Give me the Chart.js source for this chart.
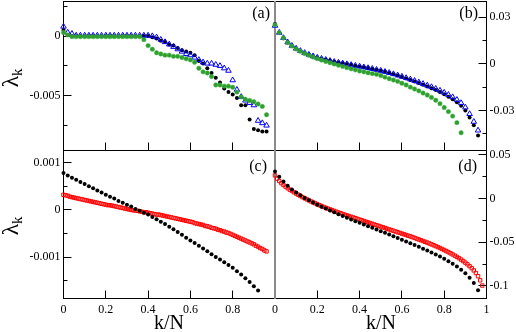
<!DOCTYPE html>
<html>
<head>
<meta charset="utf-8">
<script src="https://cdn.jsdelivr.net/npm/chart.js@4.4.0/dist/chart.umd.min.js"></script>
<style>
  html, body { margin: 0; padding: 0; background: #fff; }
  #wrap { position: relative; width: 516px; height: 332px; overflow: hidden;
          font-family: "Liberation Serif", "DejaVu Serif", serif; color: #000; }
  #wrap canvas { position: absolute; left: 0; top: 0; }
  .lab { position: absolute; font-size: 16px; line-height: 1; }
  .ylab { position: absolute; font-size: 24px; line-height: 1; white-space: nowrap;
          transform: translate(-50%, -50%) rotate(-90deg); }
  .ylab sub { font-size: 15px; vertical-align: -4px; }
  .xlab { position: absolute; font-size: 20px; line-height: 1; transform: translateX(-50%); white-space: nowrap; }
</style>
</head>
<body>
<div id="wrap">
  <canvas id="cA" width="516" height="332"></canvas>
  <canvas id="cB" width="516" height="332"></canvas>
  <canvas id="cC" width="516" height="332"></canvas>
  <canvas id="cD" width="516" height="332"></canvas>
  <div class="lab" style="right:246px; top:5px">(a)</div>
  <div class="lab" style="right:38px; top:5px">(b)</div>
  <div class="lab" style="right:249px; top:158px">(c)</div>
  <div class="lab" style="right:39px; top:158px">(d)</div>
  <div class="ylab" style="left:11px; top:78px">λ<sub>k</sub></div>
  <div class="ylab" style="left:11px; top:226px">λ<sub>k</sub></div>
  <div class="xlab" style="left:169px; top:312px">k/N</div>
  <div class="xlab" style="left:381px; top:312px">k/N</div>
</div>
<script>
// eigenvalues lambda_k against k/N
// panels (a),(b): k/N = 0, 0.02, ... ; panels (c),(d): black every 0.02, red every 0.01

const blackA = [0.0005, 0.0001, 0, 0, 0, 0, 0, 0, 0, 0,
  0, 0, 0, 0, 0, 0, 0, 0, 0, 0,
  0, -0.0001, -0.0002, -0.0004, -0.0005, -0.0007, -0.0008, -0.0010, -0.0012, -0.0013,
  -0.0014, -0.0016, -0.0021, -0.0023, -0.0027, -0.0031, -0.0035, -0.0039, -0.0044, -0.0047,
  -0.0049, -0.0052, -0.0058, -0.0058, -0.0070, -0.0078, -0.0079, -0.0080, -0.0080];
const blueA = [0.0008, 0.0003, 0.0002, 0.00005, 0.00005, 0.00005, 0.00005, 0.00005, 0.00005, 0.00005,
  0.00005, 0.00005, 0.00005, 0.00005, 0.00005, 0.00005, 0.00005, 0.00005, 0.00005, 0.00005,
  0.00005, 0, -0.0001, -0.0003, -0.0005, -0.0007, -0.0009, -0.0011, -0.0013, -0.0015,
  -0.0016, -0.0018, -0.0020, -0.0022, -0.0023, -0.0023, -0.0024, -0.0025, -0.0027, -0.0029,
  -0.0037, -0.0045, -0.0051, -0.0054, -0.0056, -0.0058, -0.0071, -0.0073, -0.0075];
const greenA = [0.0003, 0.0001, -0.00005, -0.00005, -0.00005, -0.00005, -0.00005, -0.00005, -0.00005, -0.00005,
  -0.00005, -0.00005, -0.00005, -0.00005, -0.00005, -0.00005, -0.00005, -0.00005, -0.00005, -0.0003,
  -0.0008, -0.0011, -0.0014, -0.0015, -0.0016, -0.0016, -0.0017, -0.0017, -0.0018, -0.0019,
  -0.0020, -0.0022, -0.0027, -0.0030, -0.0031, -0.0034, -0.0041, -0.0041, -0.0042, -0.0042,
  -0.0043, -0.0047, -0.0051, -0.0053, -0.0054, -0.0055, -0.0057, -0.0059, -0.0066];

const blackB = [0.0255, 0.0200, 0.0166, 0.0138, 0.0116, 0.0098, 0.0083, 0.0070, 0.0059, 0.0049,
  0.0040, 0.0033, 0.0026, 0.0019, 0.0013, 0.0008, 0.0003, -0.0002, -0.0007, -0.0012,
  -0.0017, -0.0022, -0.0027, -0.0033, -0.0039, -0.0045, -0.0052, -0.0059, -0.0067, -0.0076,
  -0.0085, -0.0094, -0.0104, -0.0114, -0.0124, -0.0135, -0.0146, -0.0157, -0.0169, -0.0182,
  -0.0196, -0.0211, -0.0228, -0.0247, -0.0270, -0.0300, -0.0345, -0.0395, -0.0460];
const blueB = [0.0245, 0.0200, 0.0166, 0.0138, 0.0116, 0.0098, 0.0083, 0.0070, 0.0059, 0.0049,
  0.0040, 0.0033, 0.0026, 0.0019, 0.0013, 0.0008, 0.0003, -0.0002, -0.0007, -0.0012,
  -0.0017, -0.0022, -0.0027, -0.0032, -0.0038, -0.0044, -0.0051, -0.0058, -0.0066, -0.0074,
  -0.0082, -0.0091, -0.0100, -0.0109, -0.0119, -0.0129, -0.0139, -0.0149, -0.0160, -0.0172,
  -0.0185, -0.0199, -0.0214, -0.0231, -0.0252, -0.0280, -0.0322, -0.0372, -0.0428];
const greenB = [0.0250, 0.0200, 0.0166, 0.0136, 0.0114, 0.0095, 0.0080, 0.0066, 0.0054, 0.0043,
  0.0033, 0.0024, 0.0015, 0.0007, -0.0001, -0.0009, -0.0017, -0.0025, -0.0032, -0.0039,
  -0.0046, -0.0052, -0.0058, -0.0063, -0.0068, -0.0075, -0.0086, -0.0096, -0.0104, -0.0113,
  -0.0125, -0.0136, -0.0150, -0.0162, -0.0174, -0.0188, -0.0201, -0.0216, -0.0234, -0.0256,
  -0.0281, -0.0307, -0.0336, -0.0378, -0.0443];

const blackC = [0.00078, 0.00073, 0.00068, 0.00064, 0.00059, 0.00055, 0.00050, 0.00046, 0.00041, 0.00037,
  0.00032, 0.00028, 0.00024, 0.00019, 0.00015, 0.00011, 0.00007, 0.00002, -0.00002, -0.00006,
  -0.00010, -0.00015, -0.00020, -0.00025, -0.00030, -0.00036, -0.00041, -0.00047, -0.00053, -0.00059,
  -0.00065, -0.00070, -0.00076, -0.00082, -0.00088, -0.00094, -0.00100, -0.00105, -0.00111, -0.00117,
  -0.00123, -0.00130, -0.00137, -0.00145, -0.00153, -0.00162, -0.00171];
const redC = [0.00032, 0.00031, 0.00030, 0.00028, 0.00027, 0.00026, 0.00025, 0.00024, 0.00023, 0.00022,
  0.00021, 0.00020, 0.00019, 0.00018, 0.00017, 0.00016, 0.00015, 0.00014, 0.00013, 0.00012,
  0.00011, 0.00010, 0.00010, 0.00009, 0.00008, 0.00007, 0.00006, 0.00005, 0.00004, 0.00003,
  0.00002, 0.00001, 0, -0.00001, -0.00001, -0.00002, -0.00003, -0.00004, -0.00005, -0.00005,
  -0.00006, -0.00007, -0.00008, -0.00009, -0.00010, -0.00010, -0.00011, -0.00012, -0.00013, -0.00014,
  -0.00015, -0.00016, -0.00017, -0.00018, -0.00019, -0.00020, -0.00021, -0.00022, -0.00023, -0.00024,
  -0.00025, -0.00026, -0.00028, -0.00029, -0.00030, -0.00031, -0.00032, -0.00034, -0.00035, -0.00036,
  -0.00038, -0.00039, -0.00040, -0.00042, -0.00043, -0.00045, -0.00046, -0.00048, -0.00049, -0.00051,
  -0.00053, -0.00055, -0.00057, -0.00059, -0.00061, -0.00063, -0.00065, -0.00067, -0.00069, -0.00071,
  -0.00073, -0.00076, -0.00078, -0.00081, -0.00083, -0.00086, -0.00088];

const blackD = [0.0310, 0.0250, 0.0195, 0.0146, 0.0104, 0.0068, 0.0036, 0.0006, -0.0021, -0.0046,
  -0.0070, -0.0093, -0.0115, -0.0137, -0.0158, -0.0179, -0.0199, -0.0219, -0.0239, -0.0259,
  -0.0278, -0.0297, -0.0316, -0.0335, -0.0354, -0.0373, -0.0392, -0.0411, -0.0431, -0.0451,
  -0.0471, -0.0491, -0.0511, -0.0531, -0.0552, -0.0573, -0.0595, -0.0617, -0.0640, -0.0664,
  -0.0689, -0.0716, -0.0745, -0.0777, -0.0813, -0.0855, -0.0905, -0.0965, -0.1050];
const redD = [0.0264, 0.0228, 0.0200, 0.0176, 0.0155, 0.0136, 0.0118, 0.0101, 0.0086, 0.0071,
  0.0057, 0.0043, 0.0029, 0.0016, 0.0003, -0.0009, -0.0021, -0.0033, -0.0044, -0.0055,
  -0.0066, -0.0076, -0.0086, -0.0096, -0.0106, -0.0115, -0.0124, -0.0133, -0.0142, -0.0151,
  -0.0160, -0.0168, -0.0177, -0.0185, -0.0193, -0.0201, -0.0209, -0.0217, -0.0225, -0.0233,
  -0.0241, -0.0249, -0.0257, -0.0265, -0.0273, -0.0281, -0.0289, -0.0297, -0.0305, -0.0313,
  -0.0321, -0.0329, -0.0337, -0.0345, -0.0353, -0.0361, -0.0369, -0.0377, -0.0385, -0.0393,
  -0.0401, -0.0409, -0.0417, -0.0425, -0.0433, -0.0441, -0.0450, -0.0459, -0.0468, -0.0477,
  -0.0486, -0.0495, -0.0504, -0.0514, -0.0524, -0.0534, -0.0544, -0.0555, -0.0566, -0.0577,
  -0.0589, -0.0601, -0.0613, -0.0626, -0.0639, -0.0653, -0.0667, -0.0682, -0.0698, -0.0715,
  -0.0733, -0.0752, -0.0773, -0.0796, -0.0822, -0.0852, -0.0888, -0.0935, -0.0995];

// axis ticks
const xTicksTop = [0.2, 0.4, 0.6, 0.8];
const xLabelsC = [0, 0.2, 0.4, 0.6, 0.8];
const xLabelsD = [0, 0.2, 0.4, 0.6, 0.8, 1];
const yMajorA = [0, -0.005], yMinorA = [0.0025, -0.0025, -0.0075];
const yMajorB = [0.03, 0, -0.03], yMinorB = [0.015, -0.015, -0.045];
const yMajorC = [0.001, 0, -0.001], yMinorC = [0.0005, -0.0005, -0.0015];
const yMajorD = [0.05, 0, -0.05, -0.1], yMinorD = [0.025, -0.025, -0.075];

// panel boxes in page pixels
const L = 63.5, M = 275, R = 486.5, T = 1.5, H = 150.5, B = 298.5;
const W = 516, HT = 332;

const pts = (vals, N) => vals.map((v, k) => ({ x: k / N, y: v }));

const black = (vals, N) => ({ data: pts(vals, N), pointStyle: 'circle', pointRadius: 2,
  pointBackgroundColor: '#000', pointBorderWidth: 0, clip: false, order: 0 });
const green = (vals, N) => ({ data: pts(vals, N), pointStyle: 'circle', pointRadius: 2.2,
  pointBackgroundColor: '#2f9e2f', pointBorderColor: '#3cb43c', pointBorderWidth: 0.5, clip: false, order: -1 });
const blue = (vals, N) => ({ data: pts(vals, N), pointStyle: 'triangle', pointRadius: 3.2,
  pointBackgroundColor: 'rgba(0,0,0,0)', pointBorderColor: '#0000ff', pointBorderWidth: 1, clip: false, order: -0.5 });
const red = (vals, N) => ({ data: pts(vals, N), pointStyle: 'rect', pointRadius: 2.4,
  pointBackgroundColor: 'rgba(0,0,0,0)', pointBorderColor: '#ff0000', pointBorderWidth: 1, clip: false, order: 1 });

// frame, inward tick marks and the grey divider, drawn under the markers
const frameTicks = {
  id: 'frameTicks',
  beforeDatasetsDraw(chart, args, opts) {
    const { ctx, chartArea: a } = chart;
    const xs = chart.scales.x, ys = chart.scales.y;
    const snap = (p) => Math.round(p - 0.5) + 0.5;
    ctx.save();
    ctx.strokeStyle = '#000';
    ctx.lineWidth = 1;
    ctx.beginPath();
    const x0 = opts.side === 'left' ? a.left : a.right;
    const dir = opts.side === 'left' ? 1 : -1;
    opts.yMajor.forEach(v => { const p = snap(ys.getPixelForValue(v)); ctx.moveTo(x0, p); ctx.lineTo(x0 + dir * 8, p); });
    opts.yMinor.forEach(v => { const p = snap(ys.getPixelForValue(v)); ctx.moveTo(x0, p); ctx.lineTo(x0 + dir * 4, p); });
    xTicksTop.forEach(v => { const p = snap(xs.getPixelForValue(v)); ctx.moveTo(p, a.bottom); ctx.lineTo(p, a.bottom - 8); });
    ctx.stroke();
    ctx.strokeRect(a.left, a.top, a.right - a.left, a.bottom - a.top);
    if (opts.side === 'right') {
      ctx.strokeStyle = '#8a8a8a';
      ctx.lineWidth = 2;
      ctx.beginPath();
      ctx.moveTo(M, a.top - 0.5);
      ctx.lineTo(M, a.bottom + 0.5);
      ctx.stroke();
    }
    ctx.restore();
  }
};

const tickFont = { family: "'Liberation Serif', 'DejaVu Serif', serif", size: 12 };

function makePanel(id, datasets, box, yr, yMajor, yMinor, side, xLabels) {
  const yWidth = side === 'left' ? box.left : W - box.right;
  const xHeight = xLabels ? HT - box.bottom : 0;
  new Chart(document.getElementById(id), {
    type: 'scatter',
    data: { datasets },
    plugins: [frameTicks],
    options: {
      responsive: false,
      animation: false,
      events: [],
      layout: {
        autoPadding: false,
        padding: {
          left: side === 'left' ? 0 : box.left,
          right: side === 'left' ? W - box.right : 0,
          top: box.top,
          bottom: xLabels ? 0 : HT - box.bottom
        }
      },
      plugins: { legend: { display: false }, tooltip: { enabled: false }, frameTicks: { side, yMajor, yMinor } },
      scales: {
        x: {
          type: 'linear', position: 'bottom', min: 0, max: 1,
          grid: { display: false, drawTicks: false }, border: { display: false },
          afterBuildTicks: (s) => { s.ticks = (xLabels || []).map(v => ({ value: v })); },
          afterFit: (s) => { s.height = xHeight; s.paddingLeft = s.paddingRight = s.paddingTop = s.paddingBottom = 0; },
          ticks: { display: !!xLabels, font: tickFont, color: '#000', padding: 4, maxRotation: 0, autoSkip: false,
                   callback: (v) => String(v) }
        },
        y: {
          type: 'linear', position: side, min: yr[0], max: yr[1],
          grid: { display: false, drawTicks: false }, border: { display: false },
          afterBuildTicks: (s) => { s.ticks = yMajor.map(v => ({ value: v })); },
          afterFit: (s) => { s.width = yWidth; s.paddingLeft = s.paddingRight = s.paddingTop = s.paddingBottom = 0; },
          ticks: { font: tickFont, color: '#000', padding: 3, autoSkip: false, callback: (v) => String(v) }
        }
      }
    }
  });
}

makePanel('cA', [black(blackA, 50), blue(blueA, 50), green(greenA, 50)],
  { left: L, right: M, top: T, bottom: H }, [-0.0096, 0.0029], yMajorA, yMinorA, 'left', null);
makePanel('cB', [black(blackB, 50), blue(blueB, 50), green(greenB, 50)],
  { left: M, right: R, top: T, bottom: H }, [-0.0557, 0.040], yMajorB, yMinorB, 'right', null);
makePanel('cC', [red(redC, 100), black(blackC, 50)],
  { left: L, right: M, top: H, bottom: B }, [-0.00188, 0.00126], yMajorC, yMinorC, 'left', xLabelsC);
makePanel('cD', [red(redD, 100), black(blackD, 50)],
  { left: M, right: R, top: H, bottom: B }, [-0.1143, 0.0549], yMajorD, yMinorD, 'right', xLabelsD);
</script>
</body>
</html>
